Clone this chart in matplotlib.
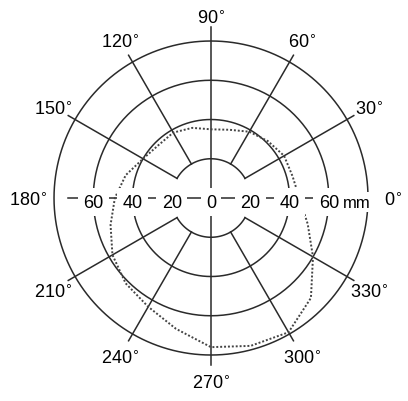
import numpy as np
import matplotlib.pyplot as plt

plt.rcParams['font.family'] = ['Liberation Sans', 'DejaVu Sans']

# measured profile (angle in degrees, radius in mm)
theta_deg = [0, 15, 30, 45, 60, 75, 90, 105, 120, 135, 150, 165,
             180, 195, 210, 225, 240, 255, 270, 285, 300, 315, 330, 345]
radius_mm = [45, 43, 43, 41, 39, 36, 35, 37, 38.5, 38, 40, 45,
             49, 53, 58, 61.5, 64, 69, 76, 78, 79, 72, 60, 51]

angle_labels = [0, 30, 60, 90, 120, 150, 180, 210, 240, 270, 300, 330]
spoke_angles = [30, 60, 120, 150, 210, 240, 300, 330]
ring_values = [20, 40, 60]

grid_kw = dict(color='#2a2a2a', lw=1.1, clip_on=False, zorder=2)
box = dict(boxstyle='square,pad=0.3', fc='white', ec='none')

fig = plt.figure(figsize=(4.08, 4.02), dpi=100)
ax = fig.add_axes([0.1324, 0.1144, 0.7696, 0.7811], projection='polar')
ax.set_ylim(0, 80)
ax.axis('off')

# circles
t = np.linspace(0, 2 * np.pi, 361)
for r in [40, 60, 80]:
    ax.plot(t, np.full_like(t, r), **grid_kw)
for a0, a1 in [(30, 150), (210, 330)]:
    ta = np.radians(np.linspace(a0, a1, 121))
    ax.plot(ta, np.full_like(ta, 20), **grid_kw)

# spokes
for a in spoke_angles:
    ax.plot([np.radians(a)] * 2, [20, 84], **grid_kw)
ax.plot([np.pi / 2] * 2, [0, 87], **grid_kw)
ax.plot([3 * np.pi / 2] * 2, [0, 85], **grid_kw)
ax.plot([np.pi] * 2, [0, 73], **grid_kw)
ax.plot([0, 0], [0, 58], **grid_kw)

# measured curve
th = np.radians(theta_deg + [360])
rr = radius_mm + [radius_mm[0]]
ax.plot(th, rr, color='#444444', lw=1.4, linestyle=(0, (1, 1)), zorder=3)

# angle labels
for a in angle_labels:
    ax.annotate(f'{a}$^{{\\circ}}$', xy=(np.radians(a), 93), xytext=(0, -2),
                textcoords='offset points', ha='center', va='center',
                fontsize=13, annotation_clip=False)

# radial labels along the 0/180 line
for v in ring_values:
    for a in [0, np.pi]:
        ax.annotate(str(v), xy=(a, v), xytext=(0, -3), textcoords='offset points',
                    ha='center', va='center', fontsize=13, bbox=box, zorder=4)
ax.annotate('0', xy=(0, 0), xytext=(0, -3), textcoords='offset points',
            ha='center', va='center', fontsize=13, bbox=box, zorder=4)
ax.annotate('mm', xy=(0, 74.5), xytext=(0, -3), textcoords='offset points',
            ha='center', va='center', fontsize=12,
            bbox=dict(boxstyle='square,pad=0.15', fc='white', ec='none'), zorder=5)

fig.savefig('out.png', dpi=100)
